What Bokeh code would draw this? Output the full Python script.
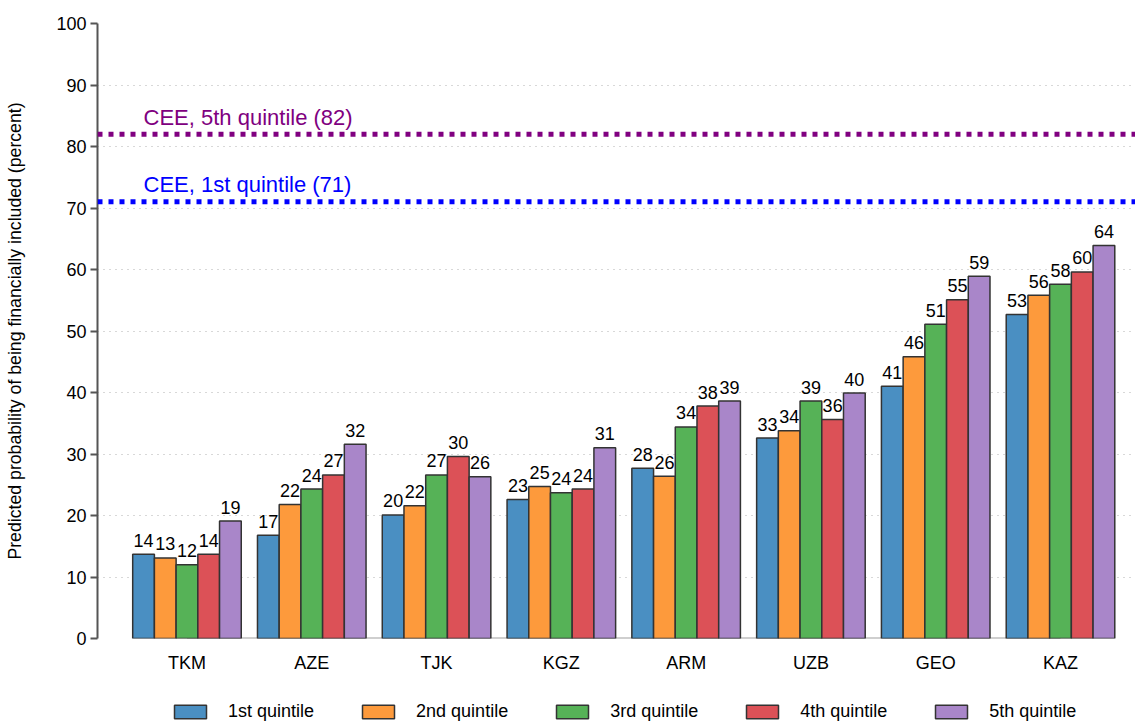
from bokeh.plotting import figure
from bokeh.layouts import column
from bokeh.models import (ColumnDataSource, Range1d, FixedTicker, Span, Legend, LegendItem)
from bokeh.transform import dodge
from bokeh.core.properties import value
from bokeh.embed import file_html
from bokeh.resources import INLINE

countries = ["TKM", "AZE", "TJK", "KGZ", "ARM", "UZB", "GEO", "KAZ"]
quintiles = ["1st quintile", "2nd quintile", "3rd quintile", "4th quintile", "5th quintile"]
q1 = [13.7, 16.8, 20.1, 22.6, 27.7, 32.6, 41.0, 52.7]
q2 = [13.1, 21.8, 21.6, 24.7, 26.4, 33.8, 45.8, 55.8]
q3 = [12.0, 24.3, 26.6, 23.7, 34.4, 38.6, 51.1, 57.6]
q4 = [13.7, 26.6, 29.6, 24.3, 37.8, 35.6, 55.1, 59.6]
q5 = [19.1, 31.6, 26.3, 31.0, 38.6, 39.9, 58.9, 63.9]
cee_q5 = 82
cee_q1 = 71
y_ticks = [0, 10, 20, 30, 40, 50, 60, 70, 80, 90, 100]

colors = ["#4a8fc2", "#fd9a3c", "#56b257", "#dc5157", "#a986c9"]
series = [q1, q2, q3, q4, q5]
FONT = "Liberation Sans"
BAR_LINE = "#333333"

data = {"idx": list(range(len(countries)))}
for i, s in enumerate(series):
    data[f"q{i+1}"] = s
    data[f"l{i+1}"] = [f"{v:.0f}" for v in s]
source = ColumnDataSource(data)

n = len(countries)
p = figure(width=1135, height=675, output_backend="svg", toolbar_location=None,
           x_range=Range1d(-0.717, n - 1 + 0.601), y_range=Range1d(0, 100),
           min_border_left=97, min_border_right=0, min_border_top=23, min_border_bottom=0)
p.outline_line_color = None
p.background_fill_color = "white"

# x baseline spanning first to last category (drawn before bars)
p.segment(x0=[0], x1=[n - 1], y0=[0], y1=[0], line_color="#a0a0a0", line_width=2)

bw = 0.174
for i, s in enumerate(series):
    off = (i - 2) * bw
    p.vbar(x=dodge("idx", off), top=f"q{i+1}", width=bw, source=source,
           fill_color=colors[i], line_color=BAR_LINE, line_width=1.5)
    p.text(x=dodge("idx", off), y=f"q{i+1}", text=f"l{i+1}", source=source,
           text_align="center", text_baseline="alphabetic", y_offset=-14,
           text_font=value(FONT), text_font_size="18px", text_color="black")

# CEE reference lines
p.add_layout(Span(location=cee_q5, dimension="width", line_color="#800080",
                  line_width=5, line_dash="5 6"))
p.add_layout(Span(location=cee_q1, dimension="width", line_color="#0000ff",
                  line_width=5, line_dash="5 6"))
ref_src = ColumnDataSource(dict(x=[-0.348, -0.348], y=[cee_q5, cee_q1],
                                t=[f"CEE, 5th quintile ({cee_q5})", f"CEE, 1st quintile ({cee_q1})"],
                                c=["#800080", "#0000ff"]))
p.text(x="x", y="y", text="t", text_color="c", source=ref_src, text_align="left",
       text_baseline="alphabetic", y_offset=-17, text_font=value(FONT), text_font_size="22px")

# axes
p.yaxis.ticker = FixedTicker(ticks=y_ticks)
p.yaxis.minor_tick_line_color = None
p.yaxis.axis_line_color = "#555555"
p.yaxis.axis_line_width = 2
p.yaxis.major_tick_line_color = "#555555"
p.yaxis.major_tick_line_width = 2
p.yaxis.major_tick_out = 7
p.yaxis.major_tick_in = 0
p.yaxis.major_label_standoff = 4
p.yaxis.major_label_text_font = FONT
p.yaxis.major_label_text_font_size = "18px"
p.yaxis.major_label_text_color = "black"
p.yaxis.axis_label = "Predicted probability of being financially included (percent)"
p.yaxis.axis_label_text_font = FONT
p.yaxis.axis_label_text_font_size = "17.7px"
p.yaxis.axis_label_text_font_style = "normal"
p.yaxis.axis_label_text_color = "black"
p.yaxis.axis_label_standoff = 28

p.xaxis.ticker = FixedTicker(ticks=list(range(n)))
p.xaxis.major_label_overrides = {i: c for i, c in enumerate(countries)}
p.xaxis.major_tick_line_color = None
p.xaxis.major_tick_out = 0
p.xaxis.major_tick_in = 0
p.xaxis.minor_tick_line_color = None
p.xaxis.axis_line_color = None
p.xaxis.major_label_standoff = 14
p.xaxis.major_label_text_font = FONT
p.xaxis.major_label_text_font_size = "18px"
p.xaxis.major_label_text_color = "black"

p.xgrid.grid_line_color = None
p.ygrid.grid_line_color = "#b0b0b0"
p.ygrid.grid_line_dash = "1 5"
p.ygrid.grid_line_width = 1

# legend strip below the chart (hidden copies of the bar series provide the swatches)
pl = figure(width=1135, height=49, output_backend="svg", toolbar_location=None,
            x_range=Range1d(0, 1), y_range=Range1d(0, 1),
            x_axis_location=None, y_axis_location=None,
            min_border_left=0, min_border_right=0, min_border_top=0, min_border_bottom=0)
pl.outline_line_color = None
pl.xgrid.grid_line_color = None
pl.ygrid.grid_line_color = None
leg_renderers = []
for i, q in enumerate(quintiles):
    r = pl.vbar(x="idx", top=f"q{i+1}", width=bw, source=source,
                fill_color=colors[i], line_color=BAR_LINE, line_width=1.5, visible=False)
    leg_renderers.append(r)

legend = Legend(items=[LegendItem(label=q, renderers=[r]) for q, r in zip(quintiles, leg_renderers)],
                orientation="horizontal", location=(73, 2))
legend.background_fill_alpha = 0
legend.border_line_color = None
legend.inactive_fill_alpha = 0
legend.padding = 0
legend.margin = 0
legend.spacing = 44
legend.label_standoff = 18
legend.glyph_width = 40
legend.glyph_height = 17
legend.label_height = 17
legend.label_text_font = FONT
legend.label_text_font_size = "18px"
legend.label_text_color = "black"
pl.add_layout(legend, "center")

layout = column(p, pl, spacing=0)
open("out.html", "w").write(file_html(layout, INLINE))
